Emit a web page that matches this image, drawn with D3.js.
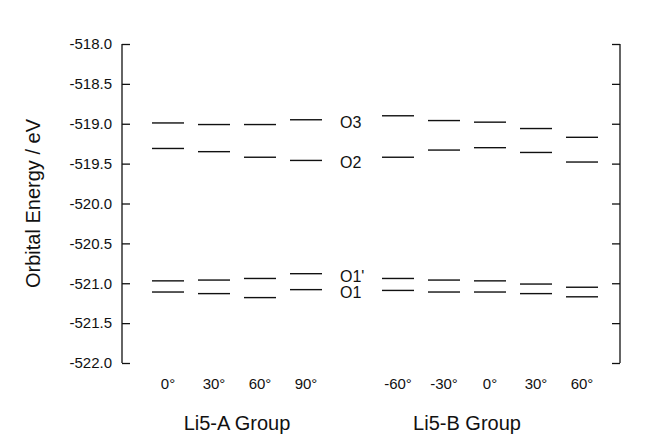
<!DOCTYPE html>
<html>
<head>
<meta charset="utf-8">
<script src="https://cdn.jsdelivr.net/npm/d3@7"></script>
<style>
  body { margin: 0; background: #fff; }
  text { font-family: "Liberation Sans", Arial, sans-serif; fill: #111; }
</style>
</head>
<body>
<div id="chart"></div>
<script>
// categories (angle slots, "gap" separates the two groups)
var slots = ["A0", "A30", "A60", "A90", "gap", "B-60", "B-30", "B0", "B30", "B60"];
var angleLabels = ["0°", "30°", "60°", "90°", "", "-60°", "-30°", "0°", "30°", "60°"];
var groups = ["Li5-A Group", "Li5-B Group"];
var groupSlots = [["A0", "A90"], ["B-60", "B30"]];

// orbital energies (eV), one per slot, null in the gap
var o3  = [-518.99, -519.01, -519.01, -518.95, null, -518.90, -518.96, -518.98, -519.06, -519.17];
var o2  = [-519.31, -519.35, -519.42, -519.46, null, -519.42, -519.33, -519.30, -519.36, -519.48];
var o1p = [-520.97, -520.96, -520.94, -520.88, null, -520.94, -520.96, -520.97, -521.01, -521.05];
var o1  = [-521.11, -521.13, -521.18, -521.08, null, -521.09, -521.11, -521.11, -521.13, -521.17];
var orbitals = [
  {name: "O3", values: o3},
  {name: "O2", values: o2},
  {name: "O1'", values: o1p},
  {name: "O1", values: o1}
];
var yTicks = [-518.0, -518.5, -519.0, -519.5, -520.0, -520.5, -521.0, -521.5, -522.0];

var W = 645, H = 438;
var margin = {top: 44, right: 25, bottom: 75, left: 122};

var svg = d3.select("#chart").append("svg")
    .attr("width", W)
    .attr("height", H);

var y = d3.scaleLinear()
    .domain([-522, -518])
    .range([H - margin.bottom, margin.top]);

var x = d3.scalePoint()
    .domain(slots)
    .range([168, 582]);

// left axis, ticks pointing inward
svg.append("g")
    .attr("transform", "translate(" + margin.left + ",0)")
    .call(d3.axisRight(y).tickValues(yTicks).tickSize(8).tickFormat(""))
    .call(function(g){ g.select(".domain").attr("d", "M0," + y(-518) + "V" + y(-522)); });

// left tick labels
svg.append("g").selectAll("text")
    .data(yTicks)
    .enter()
    .append("text")
    .attr("x", margin.left - 10)
    .attr("y", function(d){ return y(d); })
    .attr("dy", "0.35em")
    .attr("text-anchor", "end")
    .style("font-size", "15px")
    .text(function(d){ return d3.format(".1f")(d).replace("−", "-"); });

// right axis, ticks pointing inward
svg.append("g")
    .attr("transform", "translate(" + (W - margin.right) + ",0)")
    .call(d3.axisLeft(y).tickValues(yTicks).tickSize(8).tickFormat(""))
    .call(function(g){ g.select(".domain").attr("d", "M0," + y(-518) + "V" + y(-522)); });

svg.selectAll(".domain, .tick line")
    .attr("stroke", "#111")
    .attr("stroke-width", 1.3);

// axis title
svg.append("text")
    .attr("transform", "translate(40," + ((y(-518) + y(-522)) / 2) + ") rotate(-90)")
    .attr("text-anchor", "middle")
    .style("font-size", "20px")
    .text("Orbital Energy / eV");

// energy levels
var halfW = 16;
orbitals.forEach(function(orb){
  svg.append("g").selectAll("line")
      .data(orb.values.map(function(v, i){ return {slot: slots[i], v: v}; })
                      .filter(function(d){ return d.v !== null; }))
      .enter()
      .append("line")
      .attr("x1", function(d){ return x(d.slot) - halfW; })
      .attr("x2", function(d){ return x(d.slot) + halfW; })
      .attr("y1", function(d){ return y(d.v); })
      .attr("y2", function(d){ return y(d.v); })
      .attr("stroke", "#111")
      .attr("stroke-width", 1.4);
});

// orbital labels in the gap, next to the 90 degree levels
svg.append("g").selectAll("text")
    .data(orbitals)
    .enter()
    .append("text")
    .attr("x", x("gap") - 12)
    .attr("y", function(d){ return y(d.values[3]); })
    .attr("dy", "0.5em")
    .style("font-size", "16px")
    .text(function(d){ return d.name; });

// angle labels
svg.append("g").selectAll("text")
    .data(slots)
    .enter()
    .append("text")
    .attr("x", function(d){ return x(d); })
    .attr("y", 389)
    .attr("text-anchor", "middle")
    .style("font-size", "15px")
    .text(function(d, i){ return angleLabels[i]; });

// group labels
svg.append("g").selectAll("text")
    .data(groups)
    .enter()
    .append("text")
    .attr("x", function(d, i){ return (x(groupSlots[i][0]) + x(groupSlots[i][1])) / 2; })
    .attr("y", 430)
    .attr("text-anchor", "middle")
    .style("font-size", "20px")
    .text(function(d){ return d; });
</script>
</body>
</html>
